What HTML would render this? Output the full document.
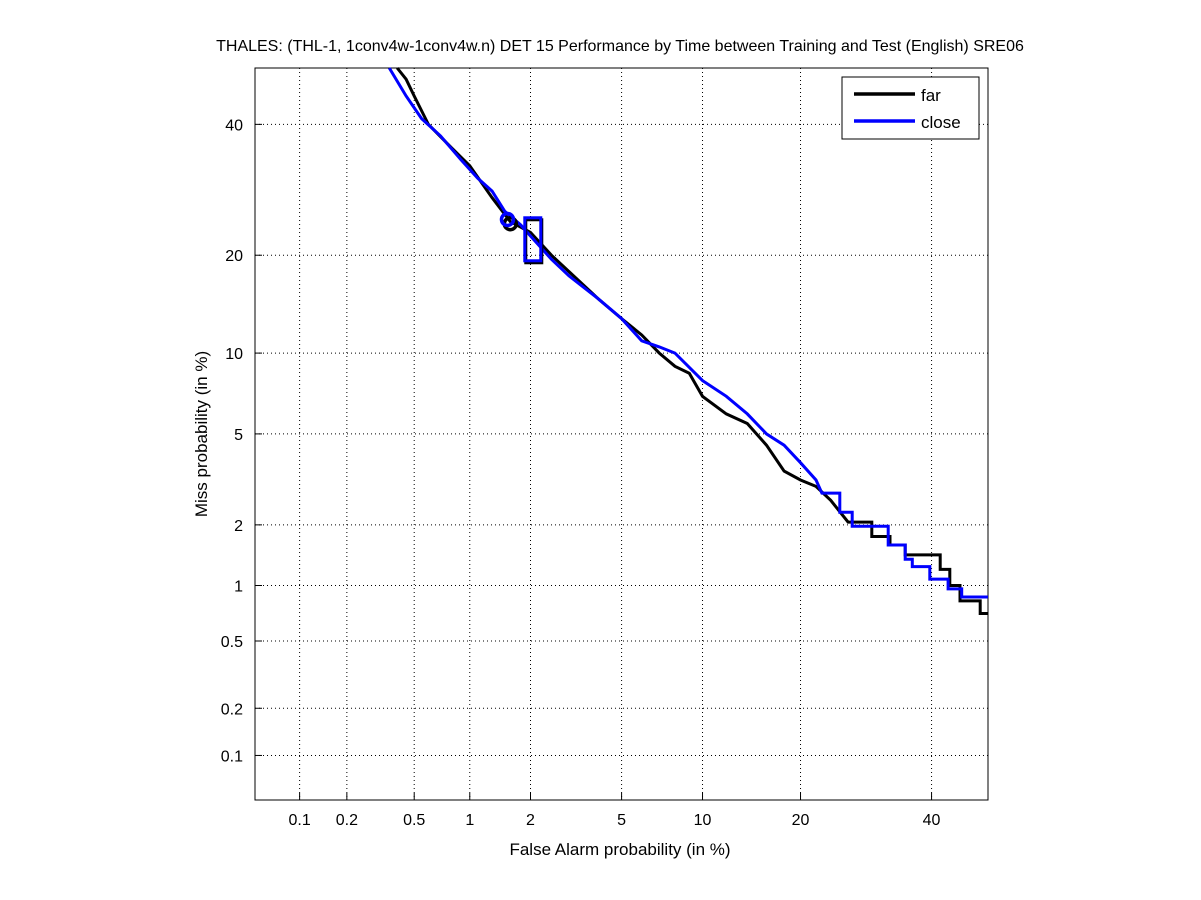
<!DOCTYPE html>
<html><head><meta charset="utf-8"><style>
body{margin:0;background:#fff;}
svg{display:block;font-family:"Liberation Sans",sans-serif;}
</style></head><body>
<svg id="chart" width="1201" height="900">
<rect width="1201" height="900" fill="#fff"/>
<text x="620" y="51" text-anchor="middle" font-size="16">THALES: (THL-1, 1conv4w-1conv4w.n) DET 15 Performance by Time between Training and Test (English) SRE06</text>
<g id="grid"></g>
<rect x="255" y="68" width="733" height="732" fill="none" stroke="#000" stroke-width="1"/>
<g id="ticks"></g>
<g id="series"></g>
<text x="620" y="855" text-anchor="middle" font-size="17">False Alarm probability (in %)</text>
<text x="207" y="434" text-anchor="middle" font-size="17" transform="rotate(-90 207 434)">Miss probability (in %)</text>
<g>
<rect x="842" y="77" width="137" height="62" fill="#fff" stroke="#000"/>
<g><line x1="854" y1="94" x2="915" y2="94" stroke="#000" stroke-width="3.5"/><text x="921" y="101" font-size="17">far</text></g>
<g><line x1="854" y1="121" x2="915" y2="121" stroke="#00f" stroke-width="3.5"/><text x="921" y="128" font-size="17">close</text></g>
</g>
</svg>
<script>
const xTicks=[0.1,0.2,0.5,1,2,5,10,20,40];
const yTicks=[0.1,0.2,0.5,1,2,5,10,20,40];
const farFA=[0.4,0.45,0.5,0.6,0.8,1,1.3,1.6,2,2.5,3,4,5,6,7,8,9,10,12,14,16,18,20,22,24,26.5,30.1,30.1,33,33,35.5,35.5,41.5,41.5,43.2,43.2,45,45,48.6,48.6,50];
const farMiss=[50,48,45,40,36,33,28,24.5,23,20,18,15,13,11.5,10,9,8.5,7,6,5.5,4.5,3.5,3.2,3,2.6,2.06,2.06,1.76,1.76,1.6,1.6,1.43,1.43,1.21,1.21,1.0,1.0,0.83,0.83,0.71,0.71];
const closeFA=[0.36,0.45,0.55,0.7,0.9,1.1,1.3,1.5,1.8,2,2.5,3,4,5,6,7,8,10,12,14,16,18,20,22,22.8,25.3,25.3,27.1,27.1,32.7,32.7,35.5,35.5,36.7,36.7,39.7,39.7,42.9,42.9,45.3,45.3,50];
const closeMiss=[50,45,41,38,34,31,29,26,24,22.5,19.5,17.5,15,13,11,10.5,10,8,7,6,5,4.5,3.8,3.2,2.8,2.8,2.29,2.29,1.97,1.97,1.6,1.6,1.36,1.36,1.25,1.25,1.08,1.08,0.96,0.96,0.87,0.87];
const farMarker=[1.6,24.2];
const closeMarker=[1.55,24.8];
const closeBox=[2.05,22];

function probit(p){
 const a=[-39.69683028665376,220.9460984245205,-275.9285104469687,138.357751867269,-30.66479806614716,2.506628277459239];
 const b=[-54.47609879822406,161.5858368580409,-155.6989798598866,66.80131188771972,-13.28068155288572];
 const c=[-0.007784894002430293,-0.3223964580411365,-2.400758277161838,-2.549732539343734,4.374664141464968,2.938163982698783];
 const d=[0.007784695709041462,0.3224671290700398,2.445134137142996,3.754408661907416];
 let q,r;
 if(p<0.02425){q=Math.sqrt(-2*Math.log(p));return (((((c[0]*q+c[1])*q+c[2])*q+c[3])*q+c[4])*q+c[5])/((((d[0]*q+d[1])*q+d[2])*q+d[3])*q+1);}
 if(p>1-0.02425){q=Math.sqrt(-2*Math.log(1-p));return -(((((c[0]*q+c[1])*q+c[2])*q+c[3])*q+c[4])*q+c[5])/((((d[0]*q+d[1])*q+d[2])*q+d[3])*q+1);}
 q=p-0.5;r=q*q;return (((((a[0]*r+a[1])*r+a[2])*r+a[3])*r+a[4])*r+a[5])*q/(((((b[0]*r+b[1])*r+b[2])*r+b[3])*r+b[4])*r+1);
}
const NS='http://www.w3.org/2000/svg';
const lo=probit(0.0005),hi=0;
function xs(v){return 255+(probit(v/100)-lo)/(hi-lo)*733;}
function ys(v){return 800-(probit(v/100)-lo)/(hi-lo)*732;}
function mk(tag,attrs,parent){const e=document.createElementNS(NS,tag);for(const k in attrs)e.setAttribute(k,attrs[k]);parent.appendChild(e);return e;}
const grid=document.getElementById('grid'),ticks=document.getElementById('ticks'),series=document.getElementById('series');
xTicks.forEach(t=>{const x=xs(t);
 const g=mk('line',{x1:x,y1:68,x2:x,y2:800,stroke:'#000','stroke-width':1,'stroke-dasharray':'1 3'},grid);
 
 
 const tk=mk('line',{x1:x,y1:800,x2:x,y2:793,stroke:'#000'},ticks);
 
 
 const tx=mk('text',{x:x,y:825,'text-anchor':'middle','font-size':16},ticks);tx.textContent=String(t);
 
 
});
yTicks.forEach(t=>{const y=ys(t);
 const g=mk('line',{x1:255,y1:y,x2:988,y2:y,stroke:'#000','stroke-width':1,'stroke-dasharray':'1 3'},grid);
 
 
 const tk=mk('line',{x1:255,y1:y,x2:262,y2:y,stroke:'#000'},ticks);
 
 
 const tx=mk('text',{x:243,y:y+6,'text-anchor':'end','font-size':16},ticks);tx.textContent=String(t);
 
 
});
function line(fa,miss,col,name){
 const pts=fa.map((f,i)=>xs(f).toFixed(1)+','+ys(miss[i]).toFixed(1)).join(' ');
 const p=mk('polyline',{points:pts,fill:'none',stroke:col,'stroke-width':3},series);
 
 
}
line(farFA,farMiss,'#000','far-line');
line(closeFA,closeMiss,'#00f','close-line');
const fc=mk('circle',{cx:xs(farMarker[0]),cy:ys(farMarker[1]),r:6,fill:'none',stroke:'#000','stroke-width':3.5},series);


const fb=mk('rect',{x:xs(closeBox[0])-7,y:ys(closeBox[1])-20,width:16,height:43,fill:'none',stroke:'#000','stroke-width':3},series);


const cc=mk('circle',{cx:xs(closeMarker[0]),cy:ys(closeMarker[1]),r:6,fill:'none',stroke:'#00f','stroke-width':3.5},series);


const cb=mk('rect',{x:xs(closeBox[0])-8,y:ys(closeBox[1])-22,width:16,height:43,fill:'none',stroke:'#00f','stroke-width':3},series);


</script>
</body></html>
